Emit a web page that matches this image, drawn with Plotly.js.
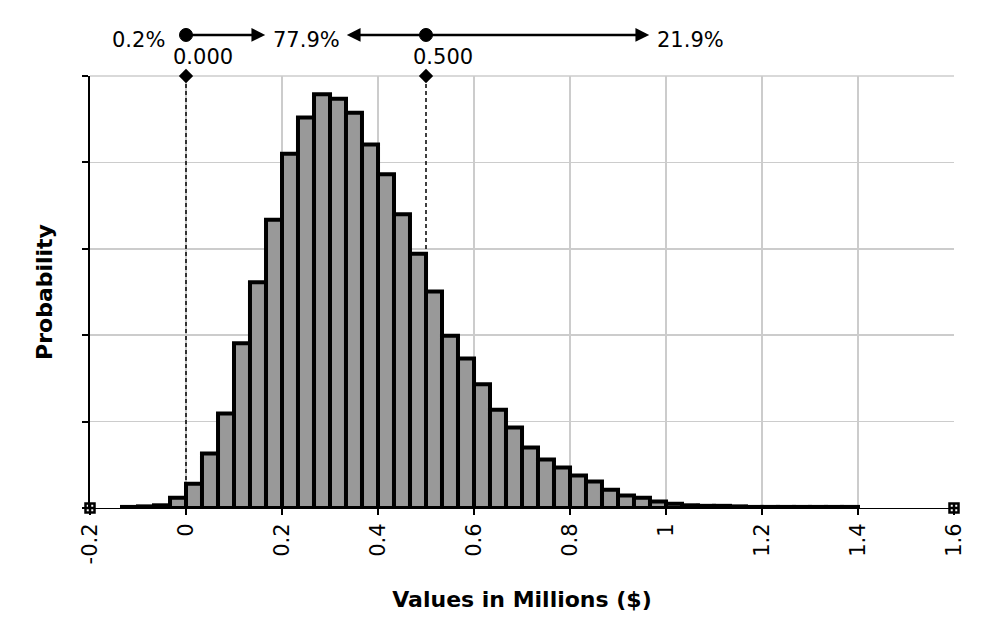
<!DOCTYPE html>
<html>
<head>
<meta charset="utf-8">
<script src="https://cdn.plot.ly/plotly-3.0.1.min.js"></script>
<style>
  html, body { margin: 0; padding: 0; background: #ffffff; }
  #chart { width: 1001px; height: 618px; }
</style>
</head>
<body>
<div id="chart"></div>
<script>
// ---- data ----
// lower edge of each histogram bin (bin width 1/30 million)
const binLowerEdges = [
  -0.1333, -0.1, -0.0667, -0.0333,
  0, 0.0333, 0.0667, 0.1, 0.1333, 0.1667,
  0.2, 0.2333, 0.2667, 0.3, 0.3333, 0.3667,
  0.4, 0.4333, 0.4667, 0.5, 0.5333, 0.5667,
  0.6, 0.6333, 0.6667, 0.7, 0.7333, 0.7667,
  0.8, 0.8333, 0.8667, 0.9, 0.9333, 0.9667,
  1, 1.0333, 1.0667, 1.1, 1.1333, 1.1667,
  1.2, 1.2333, 1.2667, 1.3, 1.3333, 1.3667
];
// probability of each bin (%)
const binProbability = [
  0.02, 0.03, 0.05, 0.19,
  0.45, 1.01, 1.75, 3.05, 4.18, 5.34,
  6.56, 7.23, 7.66, 7.58, 7.32, 6.73,
  6.18, 5.44, 4.71, 4.01, 3.19, 2.77,
  2.29, 1.82, 1.49, 1.12, 0.90, 0.75,
  0.60, 0.49, 0.34, 0.23, 0.19, 0.12,
  0.08, 0.05, 0.04, 0.04, 0.03, 0.02,
  0.02, 0.02, 0.02, 0.02, 0.02, 0.02
];
const binWidth = 1 / 30;

// x axis ticks
const xTickValues = [-0.2, 0, 0.2, 0.4, 0.6, 0.8, 1, 1.2, 1.4, 1.6];
const xTickLabels = ["-0.2", "0", "0.2", "0.4", "0.6", "0.8", "1", "1.2", "1.4", "1.6"];
const xRange = [-0.2, 1.6];

// delimiter sliders and the probability of each region
const delimiterValues = [0, 0.5];
const delimiterLabels = ["0.000", "0.500"];
const regionPercents = ["0.2%", "77.9%", "21.9%"];

// ---- styling constants ----
const FONT = "DejaVu Sans, Verdana, sans-serif";
const TXT = 21;
const ARROW_Y = 1.095;      // paper y of slider row
const PCT_Y = 1.083;
const VAL_Y = 1.043;
const GAP = 0.085;          // data-units between label centre and arrow tip

// region centres
const regionEdges = [xRange[0]].concat(delimiterValues, [xRange[1]]);
const regionCentres = regionPercents.map((_, i) => (regionEdges[i] + regionEdges[i + 1]) / 2);

const bars = {
  type: 'bar',
  x: binLowerEdges,
  y: binProbability,
  width: binWidth,
  offset: 0,
  marker: { color: '#999999', line: { color: '#000000', width: 4 } },
  hoverinfo: 'skip',
  showlegend: false
};

const diamonds = {
  type: 'scatter', mode: 'markers',
  x: delimiterValues, y: delimiterValues.map(() => 1),
  yaxis: 'y2', cliponaxis: false,
  marker: { symbol: 'diamond', size: 11, color: '#000' },
  hoverinfo: 'skip', showlegend: false
};
const handles = {
  type: 'scatter', mode: 'markers',
  x: xRange, y: [0, 0],
  yaxis: 'y2', cliponaxis: false,
  marker: { symbol: 'square-cross-open', size: 9, color: '#000', line: { color: '#000', width: 2.5 } },
  hoverinfo: 'skip', showlegend: false
};

const shapes = [];
// top border gridline
shapes.push({
  type: 'line', xref: 'paper', yref: 'paper', x0: 0, x1: 1, y0: 1, y1: 1,
  line: { color: '#cccccc', width: 1.5 }, layer: 'below'
});
delimiterValues.forEach(v => {
  shapes.push({
    type: 'line', xref: 'x', yref: 'paper',
    x0: v, x1: v, y0: 0, y1: 1,
    line: { color: '#000', width: 1.5, dash: '4px,3px' }
  });
  // slider dot
  shapes.push({
    type: 'circle', xref: 'x', yref: 'paper',
    xsizemode: 'pixel', ysizemode: 'pixel',
    xanchor: v, yanchor: ARROW_Y,
    x0: -6.5, x1: 6.5, y0: -6.5, y1: 6.5,
    fillcolor: '#000', line: { color: '#000', width: 1 }
  });
});

const annotations = [];
// percentages
regionPercents.forEach((t, i) => {
  annotations.push({
    xref: 'x', yref: 'paper', x: regionCentres[i], y: PCT_Y,
    text: t, showarrow: false, xanchor: 'center', yanchor: 'middle',
    font: { family: FONT, size: TXT, color: '#000' }
  });
});
// arrows from each delimiter towards neighbouring labels (not the leftmost region)
delimiterValues.forEach((v, i) => {
  if (i > 0) {
    annotations.push({
      xref: 'x', yref: 'paper', x: regionCentres[i] + GAP, y: ARROW_Y,
      axref: 'x', ayref: 'pixel', ax: v, ay: 0, text: '', showarrow: true,
      arrowhead: 2, arrowsize: 1.1, arrowwidth: 2.5, arrowcolor: '#000', standoff: 0, startstandoff: 0
    });
  }
  annotations.push({
    xref: 'x', yref: 'paper', x: regionCentres[i + 1] - GAP, y: ARROW_Y,
    axref: 'x', ayref: 'pixel', ax: v, ay: 0, text: '', showarrow: true,
    arrowhead: 2, arrowsize: 1.1, arrowwidth: 2.5, arrowcolor: '#000', standoff: 0, startstandoff: 0
  });
  annotations.push({
    xref: 'x', yref: 'paper', x: v, y: VAL_Y, xshift: 17,
    text: delimiterLabels[i], showarrow: false, xanchor: 'center', yanchor: 'middle',
    font: { family: FONT, size: TXT, color: '#000' }
  });
});

const layout = {
  width: 1001, height: 618,
  margin: { l: 90, r: 47, t: 76, b: 110 },
  paper_bgcolor: '#ffffff', plot_bgcolor: '#ffffff',
  font: { family: FONT, size: TXT, color: '#000' },
  bargap: 0,
  xaxis: {
    range: xRange, tickvals: xTickValues, ticktext: xTickLabels,
    tickangle: -90, ticks: 'outside', ticklen: 6, tickwidth: 2, tickcolor: '#000',
    showline: true, linecolor: '#000', linewidth: 1,
    showgrid: true, gridcolor: '#cccccc', gridwidth: 1.5, zeroline: false,
    tickfont: { family: FONT, size: TXT, color: '#000' },
    title: { text: 'Values in Millions ($)', standoff: 28,
             font: { family: FONT, size: 22, color: '#000', weight: 'bold' } }
  },
  yaxis: {
    range: [0, 8], dtick: 1.6, tick0: 0, showticklabels: false,
    ticks: 'outside', ticklen: 6, tickwidth: 2, tickcolor: '#000',
    showline: true, linecolor: '#000', linewidth: 2,
    showgrid: true, gridcolor: '#cccccc', gridwidth: 1.5, zeroline: false,
    title: { text: 'Probability', standoff: 23,
             font: { family: FONT, size: 22, color: '#000', weight: 'bold' } }
  },
  yaxis2: { overlaying: 'y', range: [0, 1], visible: false, fixedrange: true },
  shapes: shapes,
  annotations: annotations,
  showlegend: false
};

Plotly.newPlot('chart', [bars, diamonds, handles], layout, { staticPlot: true, displayModeBar: false });
</script>
</body>
</html>
